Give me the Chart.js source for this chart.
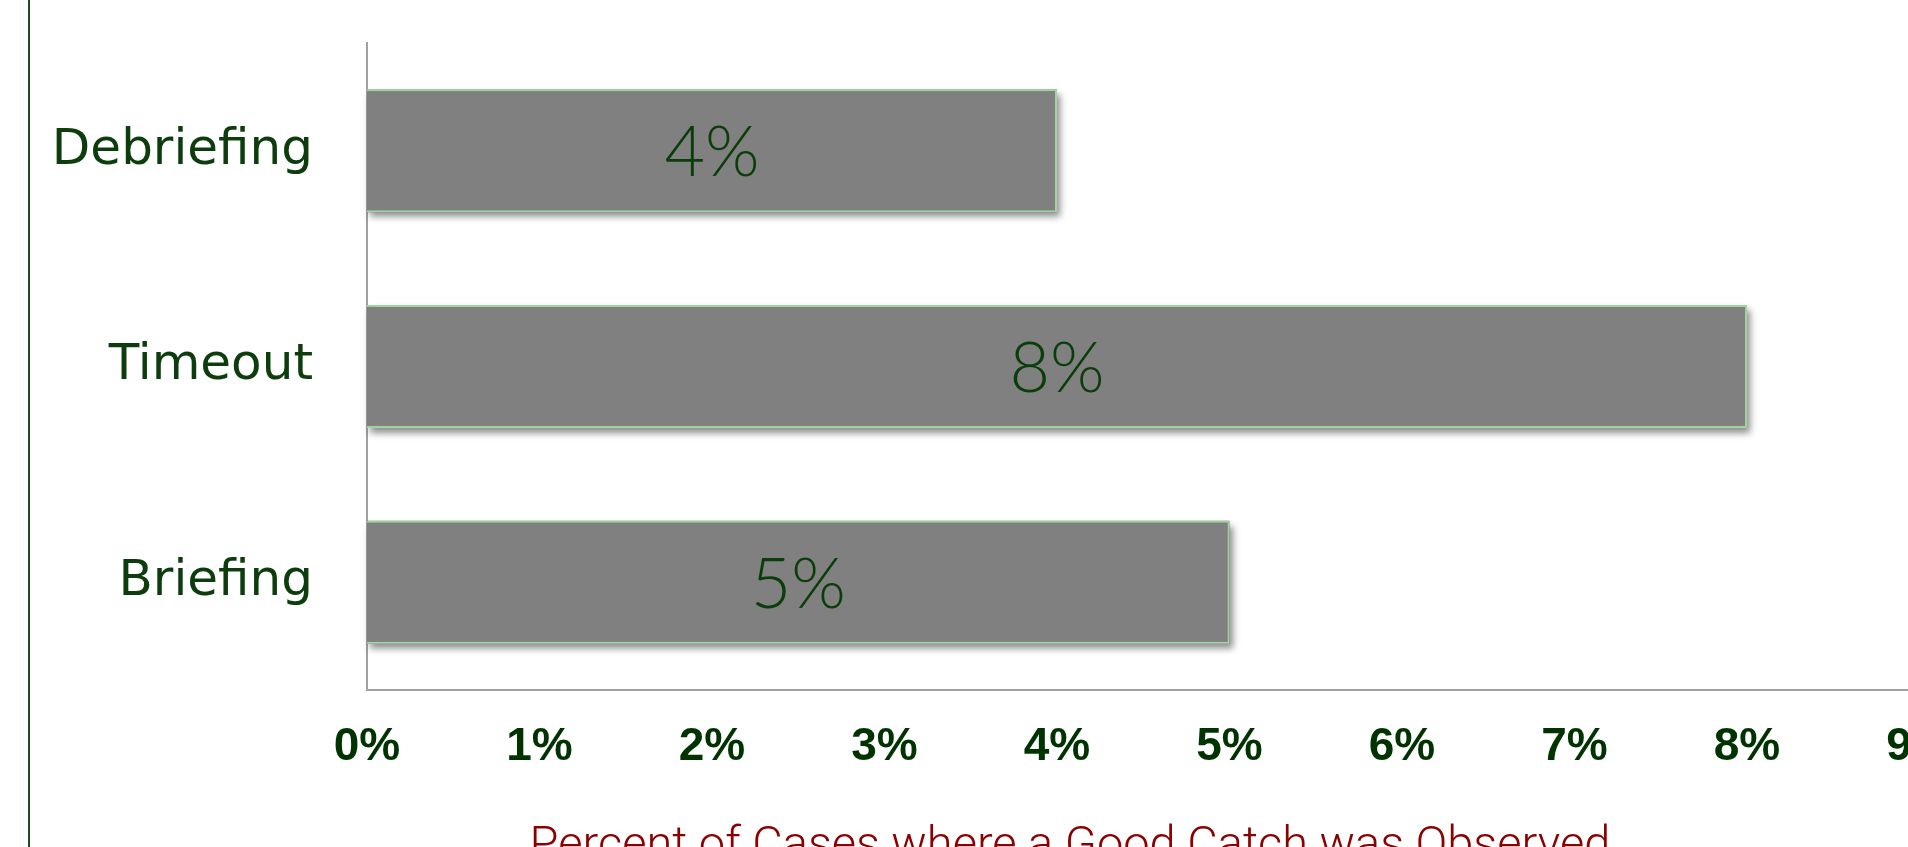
<!DOCTYPE html>
<html>
<head>
<meta charset="utf-8">
<script src="https://cdn.jsdelivr.net/npm/chart.js@4.4.1/dist/chart.umd.min.js"></script>
<style>
	html, body { margin: 0; padding: 0; background: #fff; overflow: hidden; }
	#frame { position: absolute; left: 28px; top: 0; width: 2px; height: 847px; background: #1c4a1c; }
	#wrap { position: absolute; left: 0; top: 0; width: 2200px; height: 900px; }
</style>
</head>
<body>
<div id="wrap"><canvas id="catchChart"></canvas></div>
<div id="frame"></div>
<script>
const categories = ['Debriefing', 'Timeout', 'Briefing'];
const percentObserved = [4, 8, 5];
const xTicksMax = 10;
const axisTitle = 'Percent of Cases where a Good Catch was Observed';

// bars clip themselves, so the drop shadow is painted under them first
const barShadow = {
	id: 'barShadow',
	beforeDatasetsDraw(chart) {
		const c = chart.ctx;
		const meta = chart.getDatasetMeta(0);
		c.save();
		c.shadowColor = 'rgba(0, 0, 0, 0.45)';
		c.shadowBlur = 7;
		c.shadowOffsetX = 3;
		c.shadowOffsetY = 5;
		c.fillStyle = '#808080';
		meta.data.forEach(function(bar) {
			c.fillRect(bar.base, bar.y - bar.height / 2, bar.x - bar.base, bar.height);
		});
		c.restore();
	},
	afterDatasetsDraw(chart) {
		const c = chart.ctx;
		const meta = chart.getDatasetMeta(0);
		c.save();
		c.fillStyle = '#0b3d0b';
		c.font = '300 70px Lato, "Open Sans", sans-serif';
		c.textAlign = 'center';
		c.textBaseline = 'middle';
		meta.data.forEach(function(bar, i) {
			c.fillText(percentObserved[i] + '%', (bar.x + bar.base) / 2, bar.y + 3);
		});
		// axis title, centred a bit left of the plot middle as on the slide
		c.fillStyle = '#8b0000';
		c.font = '300 47px Roboto, sans-serif';
		c.textBaseline = 'alphabetic';
		c.fillText(axisTitle, 1070, 859);
		c.restore();
	}
};

const ctx = document.getElementById('catchChart').getContext('2d');
new Chart(ctx, {
	type: 'bar',
	data: {
		labels: categories,
		datasets: [{
			data: percentObserved,
			backgroundColor: '#808080',
			borderColor: '#9fd49f',
			borderWidth: 2,
			barPercentage: 0.57,
			categoryPercentage: 1
		}]
	},
	options: {
		indexAxis: 'y',
		responsive: true,
		maintainAspectRatio: false,
		animation: false,
		layout: {
			padding: { left: 0, top: 43, right: 108, bottom: 0 }
		},
		plugins: {
			legend: { display: false },
			tooltip: { enabled: false }
		},
		scales: {
			x: {
				min: 0,
				max: xTicksMax,
				grid: { display: false, drawTicks: false },
				border: { display: true, color: '#a0a0a0', width: 2 },
				ticks: {
					stepSize: 1,
					padding: 30,
					color: '#003300',
					font: { family: '"Liberation Sans", Arial, sans-serif', size: 46, weight: 'bold' },
					callback: function(value) {
						return value + '%';
					}
				},
				afterFit: function(scale) {
					scale.height = 210;
				}
			},
			y: {
				grid: { display: false, drawTicks: false },
				border: { display: true, color: '#a0a0a0', width: 2 },
				ticks: {
					padding: 54,
					color: '#0d3d0d',
					font: { family: '"DejaVu Sans", Verdana, sans-serif', size: 50 }
				},
				afterFit: function(scale) {
					scale.width = 367;
					scale.paddingTop = 0;
					scale.paddingBottom = 0;
				}
			}
		}
	},
	plugins: [barShadow]
});
</script>
</body>
</html>
